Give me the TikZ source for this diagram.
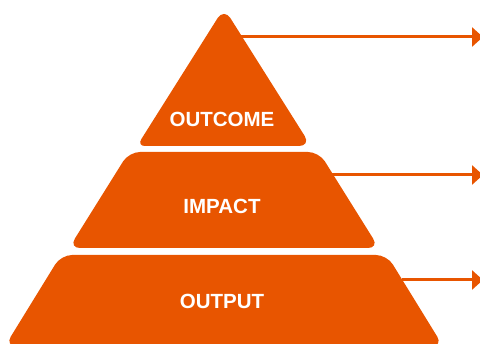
\documentclass[tikz,border=0pt]{standalone}
\usepackage{fontspec}
\setsansfont{Liberation Sans}
\usetikzlibrary{arrows.meta}
\definecolor{pyrorange}{RGB}{232,85,0}

\begin{document}
\begin{tikzpicture}[x=1pt, y=-1pt,
    level/.style={fill=pyrorange, rounded corners=8pt},
    lbl/.style={text=white, font=\sffamily\bfseries\fontsize{20.5}{24}\selectfont},
    arr/.style={-{Triangle[length=11pt, width=19pt]}, line width=3pt, draw=pyrorange}
]
    \useasboundingbox (0,0) rectangle (480,344);

    % the three levels, top to bottom
    \fill[level] (224,8) [rounded corners=12pt] -- (311,146) [rounded corners=8pt] -- (137,146) [rounded corners=12pt] -- cycle;
    \fill[level, rounded corners=11pt] (129,152) -- (319,152) -- (379,248) -- (69,248) -- cycle;
    \fill[level, rounded corners=11pt] (61,255) -- (387,255) -- (443,346) -- (5,346) -- cycle;

    \node[lbl] (outcome) at (222,119) {OUTCOME};
    \node[lbl] (impact) at (222,206) {IMPACT};
    \node[lbl] (output) at (222,301) {OUTPUT};

    % arrow anchors on the right slopes
    \coordinate (outcome-r) at (239,37);
    \coordinate (impact-r) at (332,175);
    \coordinate (output-r) at (402,280);
    \coordinate (outcome-e) at (483,37);
    \coordinate (impact-e) at (483,175);
    \coordinate (output-e) at (483,280);

    \draw[arr] (outcome-r) -- (outcome-e);
    \draw[arr] (impact-r) -- (impact-e);
    \draw[arr] (output-r) -- (output-e);
\end{tikzpicture}
\end{document}
